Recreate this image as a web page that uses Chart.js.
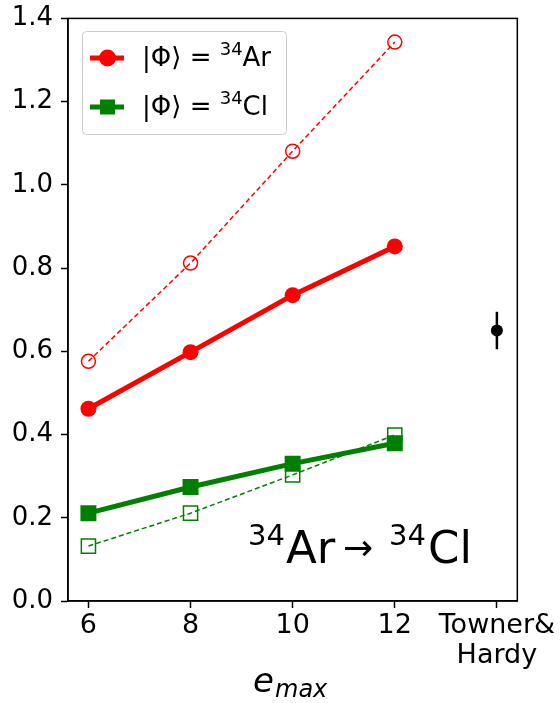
<!DOCTYPE html>
<html>
<head>
<meta charset="utf-8">
<script src="https://cdn.jsdelivr.net/npm/chart.js@4.4.0/dist/chart.umd.min.js"></script>
<style>
  html, body { margin: 0; padding: 0; background: #fff; }
  #wrap { width: 560px; height: 703px; }
</style>
</head>
<body>
<div id="wrap"><canvas id="myChart" width="560" height="703"></canvas></div>
<script>
// data
const emax = [6, 8, 10, 12];
const arSolid = [0.462, 0.598, 0.735, 0.852];
const arDashed = [0.576, 0.812, 1.081, 1.343];
const clSolid = [0.211, 0.274, 0.330, 0.379];
const clDashed = [0.132, 0.211, 0.303, 0.399];
const townerX = [14];
const townerValue = [0.65];
const townerErr = [0.045];
const xTicks = [6, 8, 10, 12, 14];
const xTickLabels = ["6", "8", "10", "12", ["Towner&", "Hardy"]];
const yTicks = [0, 0.2, 0.4, 0.6, 0.8, 1.0, 1.2, 1.4];

const FONT = "DejaVu Sans";
const RED = "#ff0000";
const GREEN = "#008000";

const pts = (xs, ys) => xs.map((x, i) => ({ x: x, y: ys[i] }));

// draws text pieces: [text, size, raise, style, x]
function drawRuns(ctx, x, y, runs) {
  let cx = x;
  runs.forEach(([t, size, raise, style, at]) => {
    ctx.font = (style || "normal") + " " + size + "px '" + FONT + "'";
    if (at !== undefined) cx = at;
    ctx.fillText(t, cx, y - (raise || 0));
    cx += ctx.measureText(t).width;
  });
}

const extras = {
  id: "extras",
  afterDatasetsDraw(chart) {
    const ctx = chart.ctx;
    const a = chart.chartArea;
    const xs = chart.scales.x;
    const ys = chart.scales.y;
    ctx.save();
    ctx.textBaseline = "alphabetic";
    ctx.textAlign = "left";

    // error bar for Towner & Hardy
    ctx.strokeStyle = "#000";
    ctx.lineWidth = 2.5;
    townerX.forEach((x, i) => {
      const px = xs.getPixelForValue(x);
      ctx.beginPath();
      ctx.moveTo(px, ys.getPixelForValue(townerValue[i] - townerErr[i]));
      ctx.lineTo(px, ys.getPixelForValue(townerValue[i] + townerErr[i]));
      ctx.stroke();
    });

    // frame
    ctx.lineWidth = 1.5;
    ctx.strokeRect(a.left, a.top, a.right - a.left, a.bottom - a.top);

    // legend
    const lx = 82, ly = 31, lw = 204, lh = 103;
    ctx.fillStyle = "rgba(255,255,255,0.8)";
    ctx.strokeStyle = "#cccccc";
    ctx.lineWidth = 1;
    ctx.beginPath();
    ctx.roundRect(lx + 0.5, ly + 0.5, lw, lh, 4);
    ctx.fill();
    ctx.stroke();

    const rows = [
      { y: 58, color: RED, shape: "circle", name: "Ar" },
      { y: 107, color: GREEN, shape: "square", name: "Cl" }
    ];
    rows.forEach(r => {
      ctx.strokeStyle = r.color;
      ctx.fillStyle = r.color;
      ctx.lineWidth = 5;
      ctx.beginPath();
      ctx.moveTo(90, r.y);
      ctx.lineTo(124, r.y);
      ctx.stroke();
      if (r.shape === "circle") {
        ctx.beginPath();
        ctx.arc(107.5, r.y, 8.5, 0, Math.PI * 2);
        ctx.fill();
      } else {
        ctx.fillRect(100, r.y - 7.5, 15, 15);
      }
      ctx.fillStyle = "#000";
      drawRuns(ctx, 142, r.y + 8, [
        ["|\u03A6\u27E9 = ", 26, 0],
        ["34", 18, 11],
        [r.name, 26, 0]
      ]);
    });

    // reaction label
    ctx.fillStyle = "#000";
    drawRuns(ctx, 248, 563, [
      ["34", 29, 18, "normal", 248],
      ["Ar", 45, 0, "normal", 286],
      ["\u2192", 36, 3, "normal", 343],
      ["34", 29, 18, "normal", 389],
      ["Cl", 45, 0, "normal", 428]
    ]);

    // x title e_max
    drawRuns(ctx, 0, 692, [
      ["e", 34, 0, "italic", 253],
      ["max", 24, -5, "italic", 275]
    ]);

    ctx.restore();
  }
};

const tickGrid = {
  display: true,
  drawOnChartArea: false,
  drawTicks: true,
  tickLength: 7,
  tickWidth: 1.5,
  tickColor: "#000",
};

const config = {
  type: "line",
  data: {
    datasets: [
      {
        label: "ar dashed",
        data: pts(emax, arDashed),
        borderColor: RED,
        borderWidth: 1.5,
        borderDash: [5, 3],
        pointStyle: "circle",
        pointRadius: 7,
        pointBorderWidth: 1.5,
        pointBackgroundColor: "rgba(0,0,0,0)",
        pointBorderColor: RED,
      },
      {
        label: "cl dashed",
        data: pts(emax, clDashed),
        borderColor: GREEN,
        borderWidth: 1.5,
        borderDash: [5, 3],
        pointStyle: "rect",
        pointRadius: 10,
        pointBorderWidth: 1.5,
        pointBackgroundColor: "rgba(0,0,0,0)",
        pointBorderColor: GREEN,
      },
      {
        label: "ar",
        data: pts(emax, arSolid),
        borderColor: RED,
        borderWidth: 5,
        pointStyle: "circle",
        pointRadius: 8,
        pointBorderWidth: 0,
        pointBackgroundColor: RED,
      },
      {
        label: "cl",
        data: pts(emax, clSolid),
        borderColor: GREEN,
        borderWidth: 5,
        pointStyle: "rect",
        pointRadius: 11.3,
        pointBorderWidth: 0,
        pointBackgroundColor: GREEN,
      },
      {
        label: "towner",
        data: pts(townerX, townerValue),
        showLine: false,
        pointStyle: "circle",
        pointRadius: 6,
        pointBorderWidth: 0,
        pointBackgroundColor: "#000",
      },
    ],
  },
  options: {
    responsive: false,
    animation: false,
    layout: {
      padding: { left: 0, top: 18, right: 42, bottom: 0 },
    },
    scales: {
      x: {
        type: "linear",
        min: 5.6,
        max: 14.4,
        afterBuildTicks: (scale) => {
          scale.ticks = xTicks.map(v => ({ value: v }));
        },
        afterFit: (scale) => {
          scale.height = 102;
        },
        grid: tickGrid,
        border: { display: true, color: "#000", width: 1.5 },
        ticks: {
          color: "#000",
          font: { family: FONT, size: 27, lineHeight: 1.1 },
          padding: 3,
          maxRotation: 0,
          autoSkip: false,
          callback: (v) => xTickLabels[xTicks.indexOf(v)],
        },
      },
      y: {
        min: 0,
        max: 1.4,
        afterBuildTicks: (scale) => {
          scale.ticks = yTicks.map(v => ({ value: v }));
        },
        afterFit: (scale) => {
          scale.width = 68;
        },
        grid: tickGrid,
        border: { display: true, color: "#000", width: 1.5 },
        ticks: {
          color: "#000",
          // small lineHeight so the top label does not push the plot down
          font: { family: FONT, size: 26, lineHeight: 0.8 },
          padding: 8,
          callback: (v) => v.toFixed(1),
        },
      },
    },
    plugins: {
      legend: { display: false },
      tooltip: { enabled: false },
    },
  },
  plugins: [extras],
};

const myChart = new Chart(document.getElementById("myChart"), config);
</script>
</body>
</html>
